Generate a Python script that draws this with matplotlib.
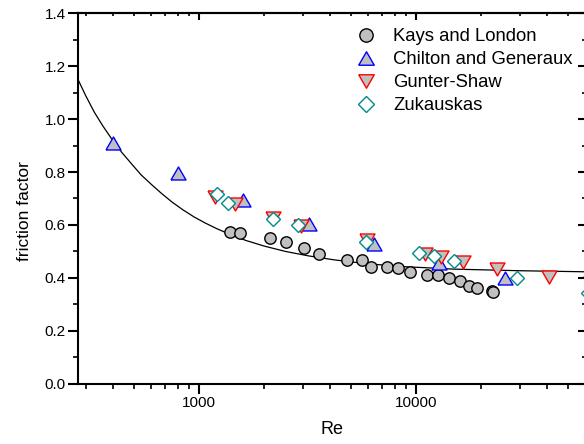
import matplotlib

matplotlib.use("Agg")

import matplotlib.pyplot as plt
from matplotlib.ticker import FixedLocator, LogLocator, MultipleLocator, NullFormatter

plt.rcParams["font.family"] = ["Liberation Sans", "DejaVu Sans"]

# --- data --------------------------------------------------------------- #
kays_re = [1389, 1546, 2124, 2517, 3056, 3589, 4796, 5608, 6197, 7327,
           8276, 9386, 11200, 12640, 14180, 15900, 17550, 19170, 22350, 22700]
kays_f = [0.572, 0.568, 0.552, 0.534, 0.513, 0.490, 0.469, 0.469, 0.442, 0.442,
          0.438, 0.422, 0.409, 0.409, 0.400, 0.388, 0.370, 0.363, 0.350, 0.346]

chilton_re = [400, 800, 1600, 3200, 6400, 12800, 25600]
chilton_f = [0.911, 0.795, 0.693, 0.605, 0.528, 0.458, 0.399]

gunter_re = [1185, 1466, 2198, 2955, 5960, 11000, 13030, 16520, 23550, 41100, 64000]
gunter_f = [0.704, 0.679, 0.625, 0.596, 0.542, 0.490, 0.478, 0.460, 0.434, 0.402, 0.385]

zuk_re = [1215, 1365, 2198, 2871, 5888, 10350, 12030, 14950, 29300, 61700]
zuk_f = [0.717, 0.684, 0.623, 0.600, 0.537, 0.495, 0.483, 0.465, 0.398, 0.342]

# fitted curve
curve_re = [277, 300, 330, 360, 400, 440, 490, 540, 600, 670, 750, 840, 950,
            1070, 1200, 1400, 1650, 2000, 2500, 3200, 4200, 6000, 9000,
            15000, 30000, 60000]
curve_f = [1.150, 1.090, 1.025, 0.975, 0.920, 0.875, 0.830, 0.790, 0.755,
           0.720, 0.687, 0.658, 0.630, 0.607, 0.587, 0.563, 0.541, 0.520,
           0.500, 0.483, 0.468, 0.453, 0.442, 0.433, 0.427, 0.423]

# --- styling ------------------------------------------------------------ #
_GRAY = "#c0c0c0"
_BLUE = "#0000ff"
_RED = "#ff0000"
_TEAL = "#008b8b"

# equilateral triangles, like Origin draws them
_TRI_UP = [(-1, -0.866), (1, -0.866), (0, 0.866), (-1, -0.866)]
_TRI_DOWN = [(-1, 0.866), (1, 0.866), (0, -0.866), (-1, 0.866)]

fig = plt.figure(figsize=(5.84, 4.44), dpi=100)
ax = fig.add_axes([78 / 584, 1 - 383.7 / 444, 507 / 584, 370.4 / 444])

ax.plot(curve_re, curve_f, color="black", linewidth=0.9, zorder=1)

common = dict(linestyle="none", markeredgewidth=1.0, clip_on=False, zorder=3)
ax.plot(kays_re, kays_f, marker="o", markersize=8.2, markerfacecolor=_GRAY,
        markeredgecolor="black", label="Kays and London", **common)
ax.plot(chilton_re, chilton_f, marker=_TRI_UP, markersize=10.8,
        markerfacecolor=_GRAY, markeredgecolor=_BLUE,
        label="Chilton and Generaux", **common)
ax.plot(gunter_re, gunter_f, marker=_TRI_DOWN, markersize=10.8,
        markerfacecolor=_GRAY, markeredgecolor=_RED, label="Gunter-Shaw", **common)
ax.plot(zuk_re, zuk_f, marker="D", markersize=7.6, markerfacecolor="white",
        markeredgecolor=_TEAL, label="Zukauskas", **common)

ax.set_xscale("log")
ax.set_xlim(277, 60000)
ax.set_ylim(0.0, 1.4)

ax.xaxis.set_major_locator(FixedLocator([1000, 10000]))
ax.xaxis.set_major_formatter(plt.FixedFormatter(["1000", "10000"]))
ax.xaxis.set_minor_locator(LogLocator(base=10, subs=range(2, 10), numticks=20))
ax.xaxis.set_minor_formatter(NullFormatter())
ax.yaxis.set_major_locator(MultipleLocator(0.2))
ax.yaxis.set_minor_locator(MultipleLocator(0.1))
ax.yaxis.set_major_formatter(plt.FormatStrFormatter("%.1f"))

for side in ax.spines.values():
    side.set_linewidth(1.5)
ax.spines["right"].set_visible(False)

ax.tick_params(which="major", direction="out", length=7, width=1.5,
               labelsize=11, pad=2)
ax.tick_params(which="minor", direction="out", length=3.5, width=1.2)

# inward ticks on top and right, as Origin does
top = ax.secondary_xaxis("top")
top.xaxis.set_major_locator(FixedLocator([1000, 10000]))
top.xaxis.set_minor_locator(LogLocator(base=10, subs=range(2, 10), numticks=20))
top.tick_params(which="major", direction="in", length=5, width=1.5, labeltop=False)
top.tick_params(which="minor", direction="in", length=2.5, width=1.2)
top.spines["top"].set_linewidth(1.5)

right = ax.secondary_yaxis("right")
right.yaxis.set_major_locator(MultipleLocator(0.2))
right.yaxis.set_minor_locator(MultipleLocator(0.1))
right.tick_params(which="major", direction="in", length=5, width=1.5,
                  labelright=False)
right.tick_params(which="minor", direction="in", length=2.5, width=1.2)
right.spines["right"].set_visible(False)

ax.set_xlabel("Re", fontsize=13, labelpad=8)
ax.set_ylabel("friction factor", fontsize=12.5)
# the label sits a little below the axis centre in the original
ax.yaxis.set_label_coords(-0.09, 0.465)

leg = ax.legend(loc="upper left", bbox_to_anchor=(357 / 584, 1 - 28 / 444),
                bbox_transform=fig.transFigure, frameon=False, fontsize=13.3,
                handlelength=1.0, handletextpad=0.95, labelspacing=0.33,
                borderpad=0, borderaxespad=0)
# Origin's legend symbols come out a bit larger than the plotted ones
for handle, size in zip(leg.legend_handles, (9.6, 11.2, 11.2, 7.8)):
    handle.set_markersize(size)

fig.savefig("out.png", dpi=100)
